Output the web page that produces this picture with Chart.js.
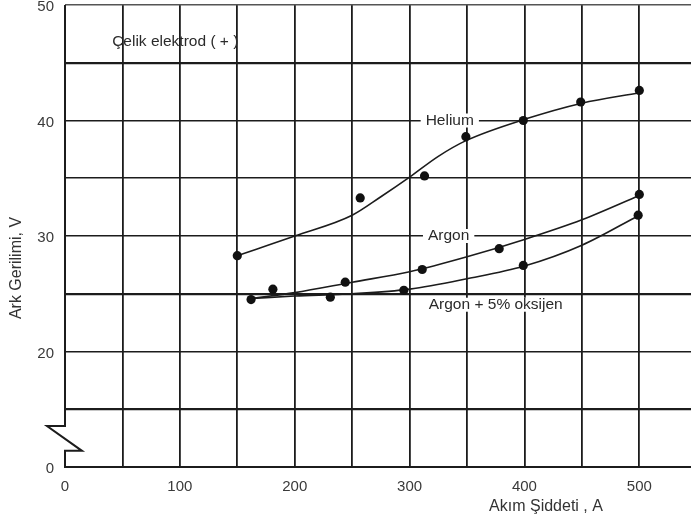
<!DOCTYPE html>
<html><head><meta charset="utf-8">
<script src="https://cdn.jsdelivr.net/npm/chart.js@4"></script>
<style>html,body{margin:0;padding:0;background:#fff}#wrap{width:691px;height:520px;position:relative}</style>
</head><body><div id="wrap"><canvas id="c"></canvas></div>
<script>
// ---- data ----
const xTickValues = [0, 100, 200, 300, 400, 500];
const yTickValues = [10, 20, 30, 40, 50];          // bottom gridline (10) is the broken-axis "0"
const yTickLabels = ['0', '20', '30', '40', '50'];

// fitted curves
const heliumCurveX = [150, 200, 250, 275, 300, 325, 350, 400, 450, 500];
const heliumCurveY = [28.3, 30.0, 31.8, 33.4, 35.1, 36.9, 38.3, 40.1, 41.5, 42.4];
const argonCurveX  = [163, 200, 250, 300, 350, 400, 450, 500];
const argonCurveY  = [24.6, 25.1, 26.0, 26.9, 28.2, 29.7, 31.4, 33.5];
const argonO2CurveX = [163, 200, 250, 300, 350, 400, 450, 500];
const argonO2CurveY = [24.6, 24.8, 25.0, 25.4, 26.3, 27.4, 29.2, 31.8];

// measured points
const heliumPtsX = [150, 257, 313, 349, 399, 449, 500];
const heliumPtsY = [28.3, 33.3, 35.2, 38.6, 40.0, 41.6, 42.6];
const argonPtsX  = [181, 244, 311, 378, 500];
const argonPtsY  = [25.4, 26.0, 27.1, 28.9, 33.6];
const argonO2PtsX = [162, 231, 295, 399, 499];
const argonO2PtsY = [24.5, 24.7, 25.3, 27.45, 31.8];

// annotations
const labelTexts = ['Çelik elektrod ( + )', 'Helium', 'Argon', 'Argon + 5% oksijen'];
const labelX = [96, 335, 334, 375];
const labelY = [46.8, 40, 30, 24.05];
const labelBoxed = [false, true, true, true];

const xTitle = 'Akım Şiddeti , A';
const yTitle = 'Ark Gerilimi, V';

const zip = (xs, ys) => xs.map((x, i) => ({x, y: ys[i]}));
const INK = '#1c1c1c';
const FONT = '"Liberation Sans", Arial, Helvetica, sans-serif';

const curve = (xs, ys) => ({type: 'line', data: zip(xs, ys), borderColor: INK, borderWidth: 1.6,
  pointRadius: 0, fill: false, cubicInterpolationMode: 'monotone', order: 2});
const dots = (xs, ys) => ({type: 'scatter', data: zip(xs, ys), showLine: false, pointRadius: 4.6,
  pointHoverRadius: 4.6, backgroundColor: '#111', borderColor: '#111', borderWidth: 0, order: 1});

const decor = {
  id: 'decor',
  beforeDatasetsDraw(chart) {
    const {ctx, scales: {x, y}} = chart;
    ctx.save();
    // left border with axis-break zigzag
    const x0 = x.getPixelForValue(0);
    const top = y.getPixelForValue(50), bot = y.getPixelForValue(10);
    const bTop = y.getPixelForValue(13.55), bBot = y.getPixelForValue(11.4);
    ctx.strokeStyle = INK; ctx.lineWidth = 2; ctx.lineJoin = 'miter';
    ctx.beginPath();
    ctx.moveTo(x0, top); ctx.lineTo(x0, bTop); ctx.lineTo(x0 - 18, bTop);
    ctx.lineTo(x0 + 17, bBot); ctx.lineTo(x0, bBot); ctx.lineTo(x0, bot);
    ctx.stroke();
    // text labels
    ctx.font = '15.5px ' + FONT;
    ctx.textAlign = 'center'; ctx.textBaseline = 'middle';
    labelTexts.forEach((t, i) => {
      const px = x.getPixelForValue(labelX[i]), py = y.getPixelForValue(labelY[i]);
      if (labelBoxed[i]) {
        const w = ctx.measureText(t).width;
        ctx.fillStyle = '#fff';
        ctx.fillRect(px - w / 2 - 5, py - 7, w + 10, 14);
      }
      ctx.fillStyle = '#2a2a2a';
      ctx.fillText(t, px, py);
    });
    // axis titles
    ctx.font = '16px ' + FONT;
    ctx.fillStyle = '#333';
    ctx.fillText(xTitle, 546, 507);
    ctx.translate(17, 268); ctx.rotate(-Math.PI / 2);
    ctx.fillText(yTitle, 0, 0);
    ctx.restore();
  }
};

new Chart(document.getElementById('c'), {
  data: {datasets: [
    curve(heliumCurveX, heliumCurveY), curve(argonCurveX, argonCurveY), curve(argonO2CurveX, argonO2CurveY),
    dots(heliumPtsX, heliumPtsY), dots(argonPtsX, argonPtsY), dots(argonO2PtsX, argonO2PtsY)
  ]},
  options: {
    responsive: true, maintainAspectRatio: false, animation: false,
    layout: {autoPadding: false, padding: {top: 5, right: 0, left: 0, bottom: 0}},
    plugins: {legend: {display: false}, tooltip: {enabled: false}},
    scales: {
      x: {
        type: 'linear', min: 0, max: 545,
        afterFit: s => { s.height = 53; s.paddingLeft = 0; s.paddingRight = 0; },
        ticks: {stepSize: 50, includeBounds: false, autoSkip: false, maxRotation: 0, padding: 11,
          color: '#3a3a3a', font: {family: FONT, size: 15},
          callback: v => xTickValues.includes(v) ? String(v) : ''},
        grid: {drawTicks: false, lineWidth: 1.8,
          color: c => (c.tick && c.tick.value > 0 && c.tick.value % 50 === 0) ? INK : 'rgba(0,0,0,0)'},
        border: {display: true, color: INK, width: 2}
      },
      y: {
        type: 'linear', min: 10, max: 50,
        afterFit: s => { s.width = 65; s.paddingTop = 0; s.paddingBottom = 0; },
        ticks: {stepSize: 5, includeBounds: false, autoSkip: false, padding: 11, labelOffset: 2,
          color: '#3a3a3a', font: {family: FONT, size: 15},
          callback: v => { const i = yTickValues.indexOf(v); return i >= 0 ? yTickLabels[i] : ''; }},
        grid: {drawTicks: false, color: c => c.tick && c.tick.value === 50 ? '#555' : INK,
          lineWidth: c => (c.tick && [45, 25, 15].includes(c.tick.value)) ? 2.2 : 1.6},
        border: {display: false}
      }
    }
  },
  plugins: [decor]
});
</script>
</body></html>
